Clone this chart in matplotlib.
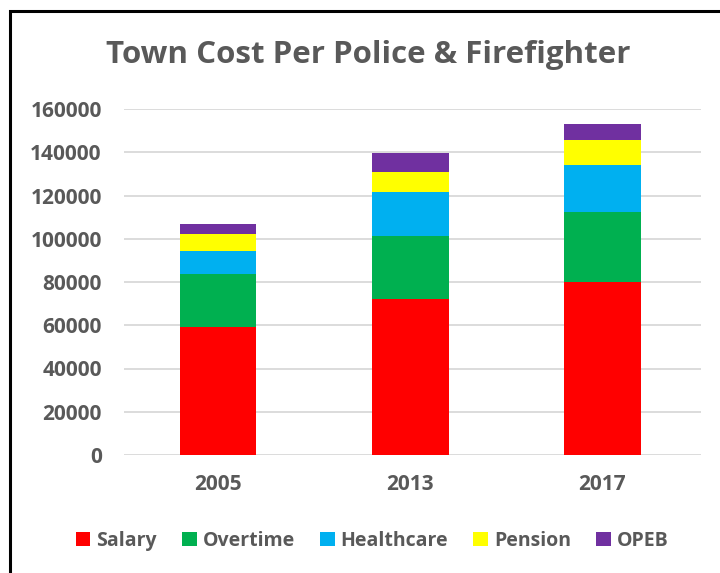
import numpy as np
from matplotlib import pyplot as plt
from matplotlib.patches import Rectangle

years = ['2005', '2013', '2017']
series = ['Salary', 'Overtime', 'Healthcare', 'Pension', 'OPEB']
salary = [59300, 72000, 80000]
overtime = [24300, 29400, 32500]
healthcare = [10900, 20400, 21700]
pension = [7700, 9200, 11500]
opeb = [4600, 8500, 7500]
cores = ['#FF0000', '#00B050', '#00B0F0', '#FFFF00', '#7030A0']

cinza = '#595959'
plt.rcParams['font.family'] = ['Open Sans', 'DejaVu Sans']
plt.rcParams['font.weight'] = 'bold'

fig = plt.figure(figsize=(7.2, 5.73), dpi=100)
ax = fig.add_axes([124/720, 118/573, 577/720, 346/573])

x = np.arange(len(years))
base = np.zeros(len(years))
for nome, vals, cor in zip(series, [salary, overtime, healthcare, pension, opeb], cores):
    ax.bar(x, vals, width=0.4, bottom=base, color=cor, label=nome, zorder=2)
    base = base + np.array(vals)

ax.set_xlim(-0.49, 2.515)
ax.set_ylim(0, 160000)
ax.set_yticks(np.arange(0, 160001, 20000))
ax.set_xticks(x)
ax.set_xticklabels(years)
ax.grid(axis='y', color='#D9D9D9', linewidth=1.3, zorder=0)
for lado in ['top', 'right', 'left', 'bottom']:
    ax.spines[lado].set_visible(False)
ax.tick_params(axis='both', length=0, labelsize=15, labelcolor=cinza)
ax.tick_params(axis='y', pad=16)
ax.tick_params(axis='x', pad=14)

fig.text(368/720, 1 - 55/573, 'Town Cost Per Police & Firefighter', ha='center', va='center',
         fontsize=22.5, color=cinza, fontweight='bold')

fig.legend(loc='center', bbox_to_anchor=(372/720, 1 - 541/573), ncol=5, frameon=False,
           handlelength=0.75, handleheight=0.75, handletextpad=0.3, columnspacing=1.3,
           prop={'size': 14, 'weight': 'bold'}, labelcolor=cinza)

moldura = Rectangle((10/720, -0.1), 1.2, 1 - 11/573 + 0.1, transform=fig.transFigure,
                    fill=False, edgecolor='black', linewidth=2.2)
fig.add_artist(moldura)

fig.savefig('out.png', dpi=100)
